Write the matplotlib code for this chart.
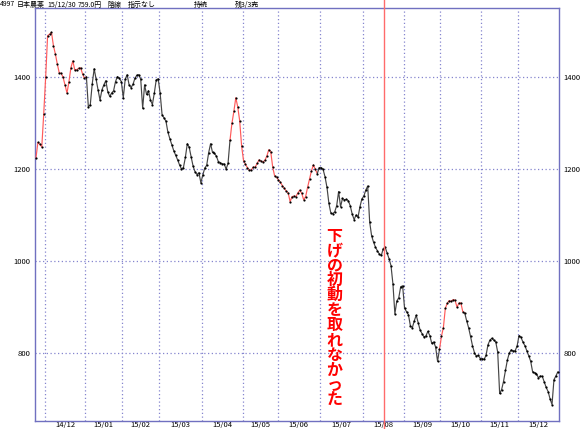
import matplotlib
matplotlib.use("Agg")
import matplotlib.pyplot as plt
import numpy as np

plt.rcParams['font.family'] = ['Noto Sans CJK JP', 'DejaVu Sans']

# ---------------- data ----------------
month_labels = ["14/11", "14/12", "15/01", "15/02", "15/03", "15/04", "15/05",
                "15/06", "15/07", "15/08", "15/09", "15/10", "15/11", "15/12"]
month_days = [5, 21, 19, 19, 22, 21, 18, 22, 22, 21, 19, 21, 19, 21]

nov14 = [1224, 1258, 1254, 1248, 1320]
dec14 = [1400, 1490, 1493, 1497, 1468, 1450, 1428, 1409, 1408, 1399, 1382, 1365,
         1390, 1420, 1435, 1415, 1416, 1419, 1420, 1407, 1397]
jan15 = [1400, 1335, 1340, 1385, 1418, 1395, 1372, 1350, 1372, 1383, 1392, 1368,
         1358, 1365, 1370, 1390, 1401, 1397, 1390]
feb15 = [1355, 1395, 1405, 1383, 1377, 1384, 1397, 1404, 1405, 1395, 1332, 1383,
         1362, 1370, 1350, 1340, 1365, 1394, 1396]
mar15 = [1365, 1318, 1311, 1304, 1280, 1266, 1253, 1240, 1230, 1220, 1209, 1200,
         1203, 1225, 1255, 1247, 1226, 1206, 1194, 1188, 1192, 1170]
apr15 = [1187, 1202, 1208, 1235, 1255, 1236, 1234, 1228, 1216, 1214, 1211, 1211,
         1200, 1212, 1262, 1299, 1325, 1355, 1335, 1305, 1250]
may15 = [1218, 1210, 1203, 1197, 1198, 1204, 1204, 1212, 1220, 1217, 1215, 1219,
         1228, 1242, 1238, 1205, 1185, 1182]
jun15 = [1176, 1171, 1164, 1158, 1152, 1148, 1129, 1140, 1141, 1140, 1148, 1154,
         1147, 1133, 1140, 1160, 1178, 1196, 1209, 1199, 1190, 1203]
jul15 = [1203, 1199, 1183, 1160, 1125, 1104, 1103, 1107, 1120, 1151, 1118, 1136,
         1133, 1134, 1131, 1120, 1102, 1090, 1100, 1095, 1118, 1135]
aug15 = [1141, 1154, 1163, 1085, 1055, 1041, 1030, 1022, 1015, 1012, 1027, 1030,
         1017, 1005, 990, 950, 885, 913, 920, 944, 946]
sep15 = [897, 890, 883, 859, 855, 870, 882, 866, 850, 842, 835, 837, 847, 838,
         821, 824, 813, 782, 808]
oct15 = [836, 855, 897, 908, 914, 912, 916, 915, 900, 908, 909, 890, 887, 870,
         855, 836, 816, 801, 793, 795, 788]
nov15 = [788, 786, 795, 818, 828, 832, 828, 824, 802, 712, 720, 738, 762, 785,
         800, 807, 804, 805, 815]
dec15 = [838, 834, 824, 816, 805, 794, 782, 759, 757, 755, 746, 750, 749, 737,
         725, 716, 700, 688, 742, 750, 759]

# runs of trading days drawn in red (index ranges, inclusive)
red_runs = [(0, 26), (100, 145), (208, 221)]
signal_day = 180          # day of the red vertical marker
y_ticks = [800, 1000, 1200, 1400]
note_text = "下げの初動を取れなかった"
header = [("4997", 0), ("日本農薬", 16.5), ("15/12/30", 47.5), ("759.0円", 78),
          ("陰線", 107), ("指示なし", 128), ("持続", 194), ("残3/3売", 235)]

# ---------------- figure ----------------
W, H = 580, 429
fig = plt.figure(figsize=(W / 100, H / 100), dpi=100)
fig.patch.set_facecolor("white")
ax_l, ax_r, ax_t, ax_b = 35, 559, 8, 420.7
ax = fig.add_axes([ax_l / W, (H - ax_b) / H, (ax_r - ax_l) / W, (ax_b - ax_t) / H])

values = np.concatenate([nov14, dec14, jan15, feb15, mar15, apr15, may15, jun15,
                         jul15, aug15, sep15, oct15, nov15, dec15]).astype(float)
idx = np.arange(len(values))
n = len(values)

starts = np.concatenate([[0], np.cumsum(month_days)])
bounds = starts[1:-1] - 0.5
xmin, xmax = -0.5, n - 0.4

grid_c = "#8585CF"
for b in bounds:
    ax.axvline(b, color=grid_c, lw=0.9, ls=(0, (1, 2)), zorder=1)
for v in y_ticks:
    ax.axhline(v, color=grid_c, lw=0.9, ls=(0, (1, 2)), zorder=1)

# line segments coloured by run
is_red = np.zeros(n - 1, dtype=bool)
for a, b in red_runs:
    is_red[a:b] = True
seg_start = 0
for k in range(1, n):
    if k == n - 1 or is_red[k] != is_red[seg_start]:
        end = k
        col = "#FF5A5A" if is_red[seg_start] else "#454545"
        ax.plot(idx[seg_start:end + 1], values[seg_start:end + 1], color=col,
                lw=0.85, zorder=3, solid_capstyle="round")
        seg_start = k
ax.plot(idx, values, ls="none", marker="o", ms=1.6, mew=0, color="black", zorder=4)

# red vertical marker
ax.axvline(signal_day - 0.5, ymin=-(H - ax_b) / (ax_b - ax_t),
           ymax=1 + ax_t / (ax_b - ax_t), color="#FF6B6B", lw=1.0,
           clip_on=False, zorder=5)

ax.set_xlim(xmin, xmax)
ax.set_ylim(652.8, 1550)

centers = [(starts[i] - 0.5 + min(starts[i + 1] - 0.5, xmax)) / 2
           for i in range(1, len(month_days))]
ax.set_xticks(centers)
ax.set_xticklabels(month_labels[1:])
ax.set_yticks(y_ticks)
ax.set_yticklabels([str(v) for v in y_ticks])
ax.tick_params(axis="x", length=0, pad=0.5, labelsize=5.5)
ax.tick_params(axis="y", length=0, pad=3, labelsize=5.5,
               labelleft=True, labelright=True)
for s in ax.spines.values():
    s.set_color("#7070C0")
    s.set_linewidth(1.0)

# header text
for s, px in header:
    fig.text(px / W, 1 - 4.5 / H, s, fontsize=5, va="center", ha="left")

# vertical red annotation
cx = 334.5
for k, ch in enumerate(note_text):
    cy = 235.5 + k * 14.9
    fig.text(cx / W, 1 - cy / H, ch, fontsize=11.5, color="#FF0000",
             fontweight="bold", ha="center", va="center")

fig.savefig("out.png", dpi=100)
